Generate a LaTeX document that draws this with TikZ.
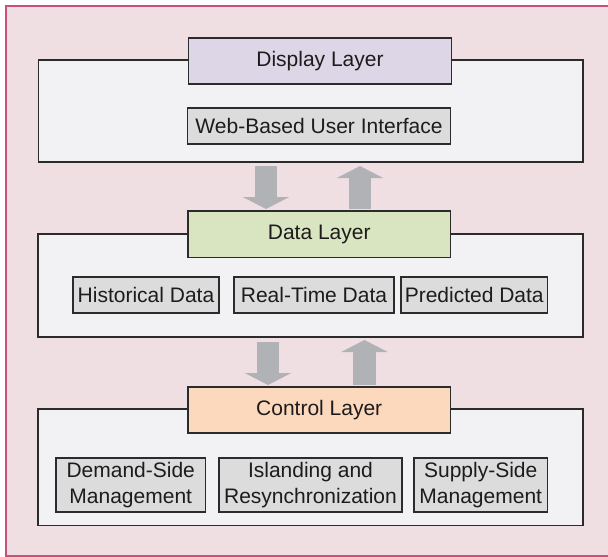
\documentclass[tikz,border=0pt]{standalone}
\usepackage{fontspec}
\setmainfont{Liberation Sans}
\usetikzlibrary{arrows.meta}
\definecolor{pinkbg}{HTML}{EFDFE2}
\definecolor{pinkline}{HTML}{C8517B}
\definecolor{layerfill}{HTML}{F2F2F4}
\definecolor{dispfill}{HTML}{DDD6E7}
\definecolor{datafill}{HTML}{D9E4C1}
\definecolor{ctrlfill}{HTML}{FCD8BC}
\definecolor{itemfill}{HTML}{DCDCDD}
\definecolor{arrowgray}{HTML}{B1B2B5}
\definecolor{edgegray}{HTML}{2B2B2B}
\definecolor{txt}{HTML}{1E1B1C}
\begin{document}
\begin{tikzpicture}[x=1pt,y=-1pt,
  layerbox/.style={draw=edgegray, line width=1.3pt, fill=layerfill, inner sep=0pt, outer sep=0pt},
  headbox/.style={draw=edgegray, line width=1.3pt, inner sep=0pt, outer sep=0pt, font=\fontsize{21}{24}\selectfont, text=txt},
  itembox/.style={draw=edgegray, line width=1.1pt, fill=itemfill, inner sep=0pt, outer sep=0pt, font=\fontsize{21}{26}\selectfont, text=txt, align=center},
  fatarrow/.style={draw=arrowgray, line width=22.5pt, -{Triangle[width=46pt,length=12pt]}}
]
\useasboundingbox (0,0) rectangle (608,557);
\fill[pinkbg] (5,5) rectangle (608,557);
\draw[pinkline, line width=2pt] (608,6) -- (6,6) -- (6,556) -- (608,556);

% Display layer
\node[layerbox, minimum width=544.5pt, minimum height=102pt] (disp) at (310.75,111) {};
\node[headbox, fill=dispfill, minimum width=263pt, minimum height=46pt] (disph) at (320,61) {Display Layer};
\node[itembox, minimum width=263pt, minimum height=36pt] (web) at (319,126) {Web-Based User Interface};

% Data layer
\node[layerbox, minimum width=545pt, minimum height=103pt] (data) at (310.5,285.5) {};
\node[headbox, fill=datafill, minimum width=262.5pt, minimum height=46.5pt] (datah) at (319.25,234.25) {Data Layer};
\node[itembox, minimum width=146pt, minimum height=36pt] (hist) at (146,295) {Historical Data};
\node[itembox, minimum width=160pt, minimum height=36pt] (real) at (314,295) {Real-Time Data};
\node[itembox, minimum width=146.5pt, minimum height=36pt] (pred) at (474.25,295) {Predicted Data};

% Control layer
\node[layerbox, minimum width=545pt, minimum height=116.7pt] (ctrl) at (310.5,467.35) {};
\node[headbox, fill=ctrlfill, minimum width=262.5pt, minimum height=46pt] (ctrlh) at (319.25,410) {Control Layer};
\node[itembox, minimum width=149.5pt, minimum height=54pt] (dsm) at (130.75,485) {Demand-Side\\Management};
\node[itembox, minimum width=183pt, minimum height=54pt] (isl) at (310.5,485) {Islanding and\\Resynchronization};
\node[itembox, minimum width=133.5pt, minimum height=54pt] (ssm) at (480.75,485) {Supply-Side\\Management};

% Arrows between layers
\coordinate (a1s) at (266,166);
\coordinate (a1e) at (266,209);
\coordinate (a2s) at (360,209);
\coordinate (a2e) at (360,166);
\coordinate (a3s) at (268,341.5);
\coordinate (a3e) at (268,385);
\coordinate (a4s) at (364.5,385);
\coordinate (a4e) at (364.5,340);
\draw[fatarrow] (a1s) -- (a1e);
\draw[fatarrow] (a2s) -- (a2e);
\draw[fatarrow] (a3s) -- (a3e);
\draw[fatarrow] (a4s) -- (a4e);
\end{tikzpicture}
\end{document}
